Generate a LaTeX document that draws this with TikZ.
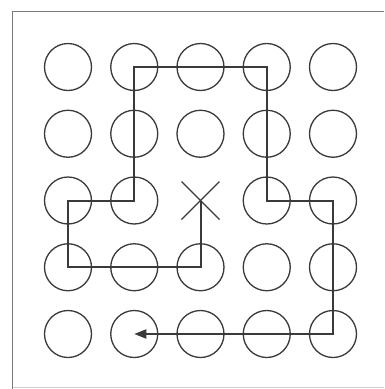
\documentclass[tikz,border=0pt]{standalone}
\usetikzlibrary{arrows.meta}
\definecolor{ink}{HTML}{3A3A3A}
\definecolor{framegray}{HTML}{7A7A7A}
\definecolor{faint}{HTML}{D0D0D0}
\begin{document}
\begin{tikzpicture}[x=1pt,y=-1pt,
  dot/.style={circle,draw=ink,line width=1.3pt,minimum size=47pt,inner sep=0pt},
  route/.style={draw=ink,line width=2pt,line join=miter},
  cross/.style={draw=ink,line width=1.3pt},
  framestyle/.style={draw=framegray,line width=1.6pt}]
\useasboundingbox (0,0) rectangle (384,389);
\fill[white] (0,0) rectangle (384,389);
\draw[framestyle] (12.5,389) -- (12.5,11.5) -- (384,11.5);
\draw[faint,line width=0.8pt] (12.5,387) -- (384,387);
\foreach \i in {1,...,25}{
  \pgfmathtruncatemacro\r{div(\i-1,5)+1}
  \pgfmathtruncatemacro\c{mod(\i-1,5)+1}
  \ifnum\i=13\relax
    \coordinate (n-\r-\c) at ({68+66.25*(\c-1)},{67+66.75*(\r-1)});
  \else
    \node[dot] (n-\r-\c) at ({68+66.25*(\c-1)},{67+66.75*(\r-1)}) {};
  \fi
}
\draw[cross] (n-3-3) ++(-19,-19) -- ++(38,38);
\draw[cross] (n-3-3) ++(19,-19) -- ++(-38,38);
\draw[route,-{Triangle[length=12pt,width=9pt]}]
  (n-3-3) -- (n-4-3.center) -- (n-4-1.center) -- (n-3-1.center)
  -- (n-3-2.center) -- (n-1-2.center) -- (n-1-4.center) -- (n-3-4.center)
  -- (n-3-5.center) -- (n-5-5.center) -- (n-5-2.center);
\end{tikzpicture}
\end{document}
